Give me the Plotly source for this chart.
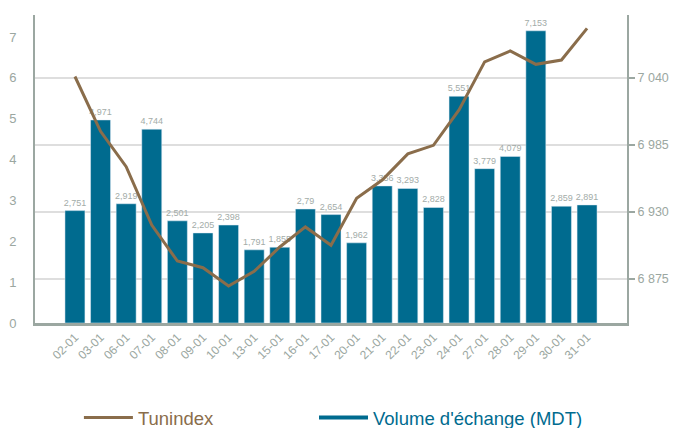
import plotly.graph_objects as go

dates = ["02-01", "03-01", "06-01", "07-01", "08-01", "09-01", "10-01", "13-01", "15-01", "16-01",
         "17-01", "20-01", "21-01", "22-01", "23-01", "24-01", "27-01", "28-01", "29-01", "30-01", "31-01"]
volume = [2.751, 4.971, 2.919, 4.744, 2.501, 2.205, 2.398, 1.791, 1.855, 2.79,
          2.654, 1.962, 3.356, 3.293, 2.828, 5.551, 3.779, 4.079, 7.153, 2.859, 2.891]
tunindex = [7041, 6996, 6967, 6919, 6889.5, 6884, 6869, 6881, 6901, 6917.5,
            6902.5, 6941, 6956, 6977.5, 6984.5, 7013.5, 7053, 7062, 7051, 7054.5, 7080.5]
left_ticks = [0, 1, 2, 3, 4, 5, 6, 7]
right_ticks = [6875, 6930, 6985, 7040]
right_ticktext = ["6 875", "6 930", "6 985", "7 040"]

BAR = "#006b8f"
LINE = "#8a6d4b"
GRAY = "#9ba7a1"
FONT = "Liberation Sans, Arial, sans-serif"

vol_text = [str(v).replace(".", ",") for v in volume]
n = len(dates)

fig = go.Figure()
fig.add_trace(go.Bar(
    x=dates, y=volume, marker_color=BAR, text=vol_text, textposition="outside",
    textfont=dict(size=9, color="#a3aca8", family=FONT), constraintext="none",
    cliponaxis=False, showlegend=False, name="Volume d'échange (MDT)", yaxis="y"))
fig.add_trace(go.Scatter(
    x=dates, y=tunindex, mode="lines", line=dict(color=LINE, width=3),
    name='<span style="color:%s">Tunindex</span>' % LINE, yaxis="y2", legend="legend"))
fig.add_trace(go.Scatter(
    x=[None], y=[None], mode="lines", line=dict(color=BAR, width=4),
    name='<span style="color:%s">Volume d\'échange (MDT)</span>' % BAR, yaxis="y2",
    legend="legend2"))

legend_common = dict(orientation="h", yanchor="middle", xanchor="left",
                     xref="container", yref="container",
                     font=dict(size=18.5, family=FONT), itemwidth=49,
                     bgcolor="rgba(0,0,0,0)")

fig.update_layout(
    width=669, height=420,
    margin=dict(l=27, r=50, t=7, b=105),
    plot_bgcolor="white", paper_bgcolor="white",
    font=dict(family=FONT, color=GRAY),
    bargap=0.22,
    xaxis=dict(type="category", range=[-1.56, n - 1 + 1.56], tickangle=-45, automargin=False,
               tickfont=dict(size=12, color=GRAY), showline=True, linecolor=GRAY,
               linewidth=2.5, ticks="", showgrid=False, zeroline=False),
    yaxis=dict(range=[0, 7.54], tickvals=left_ticks, tickfont=dict(size=13, color=GRAY),
               showline=True, linecolor=GRAY, linewidth=2, showgrid=False, zeroline=False,
               ticks="", ticklabelstandoff=14, automargin=False),
    yaxis2=dict(range=[6838.6, 7091.5], overlaying="y", side="right", automargin=False,
                tickvals=right_ticks, ticktext=right_ticktext,
                tickfont=dict(size=12.5, color=GRAY), showline=True, linecolor=GRAY,
                linewidth=2, ticks="outside", ticklen=6, tickwidth=2, tickcolor=GRAY,
                showgrid=True, gridcolor="#dedede", gridwidth=1.5, zeroline=False,
                ticklabelstandoff=0),
    legend=dict(x=0.106, y=0.024, **legend_common),
    legend2=dict(x=0.4574, y=0.024, **legend_common),
)

fig.write_html("out.html")
